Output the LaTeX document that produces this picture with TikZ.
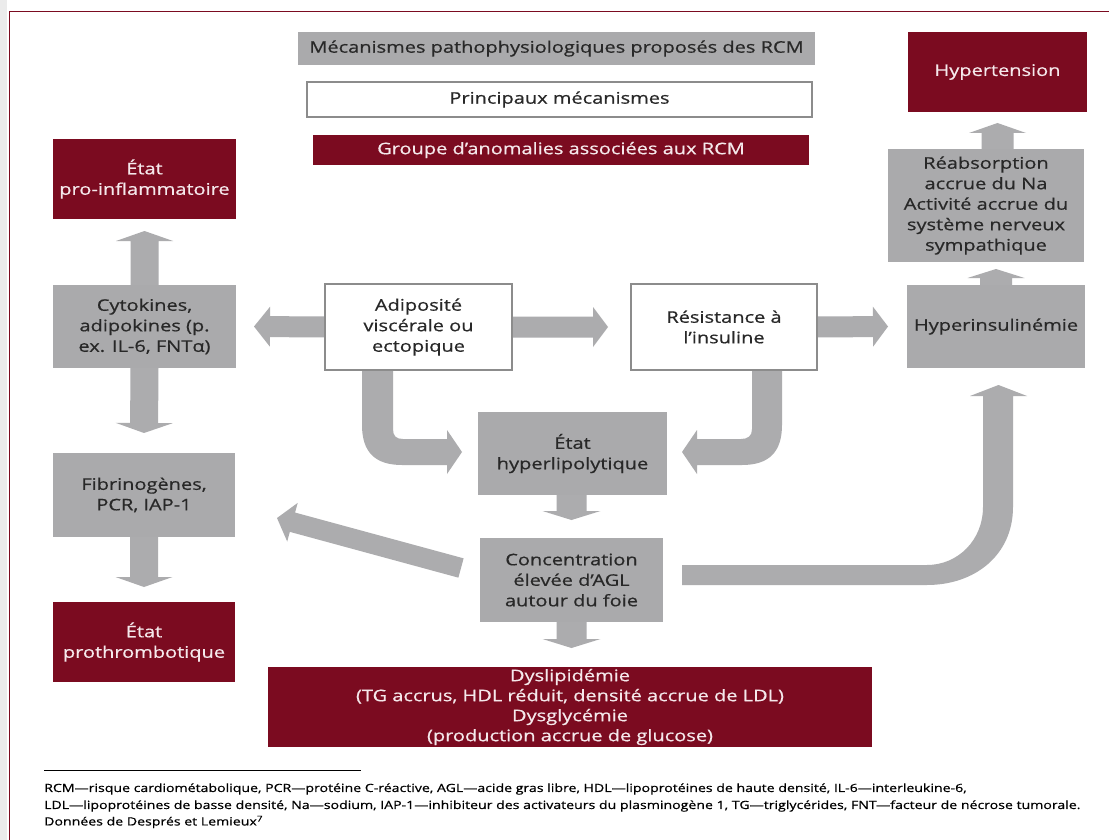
\documentclass[tikz,border=0pt]{standalone}
\usepackage{fontspec}
\setmainfont[FakeStretch=1.25,FakeBold=0.6]{Open Sans}
\usetikzlibrary{calc}
\definecolor{rcmred}{RGB}{123,11,32}
\definecolor{boxgray}{RGB}{170,170,172}
\definecolor{arrgray}{RGB}{172,172,174}
\definecolor{bordergray}{RGB}{140,140,140}
\definecolor{txtdark}{RGB}{40,40,40}
\definecolor{txtlight}{RGB}{245,232,235}
\pgfdeclarelayer{bg}
\pgfsetlayers{bg,main}
\newcommand{\mkbox}[7]{%
  \pgfmathsetmacro\bxw{#5-#3}\pgfmathsetmacro\bxh{#6-#4}%
  \pgfmathsetmacro\bxcx{(#3+#5)/2}\pgfmathsetmacro\bxcy{(#4+#6)/2}%
  \node[#2, minimum width=\bxw pt, minimum height=\bxh pt] (#1) at (\bxcx,\bxcy) {#7};}
\newcommand{\blockarr}[5]{%
  \path let \p1=#1, \p2=#2 in \pgfextra{\xdef\bax{\x1}\xdef\bay{\y1}\xdef\bbx{\x2}\xdef\bby{\y2}};
  \pgfmathsetmacro\bang{atan2(\bby-\bay,\bbx-\bax)}%
  \pgfmathsetmacro\blen{veclen(\bbx-\bax,\bby-\bay)}%
  \pgfmathsetmacro\bbase{\blen-#5}%
  \fill[arr,shift={(\bax,\bay)},rotate=\bang] (0pt,-#3pt) -- (\bbase pt,-#3pt) -- (\bbase pt,-#4pt) -- (\blen pt,0pt) -- (\bbase pt,#4pt) -- (\bbase pt,#3pt) -- (0pt,#3pt) -- cycle;}
\begin{document}
\begin{tikzpicture}[x=1pt,y=-1pt,
  base/.style={inner sep=0pt, outer sep=0pt, align=center, font=\fontsize{16}{20.5}\selectfont},
  redbox/.style={base, fill=rcmred, text=txtlight},
  graybox/.style={base, fill=boxgray, text=txtdark},
  whitebox/.style={base, fill=white, draw=bordergray, line width=2.5pt, text=txtdark},
  arr/.style={fill=arrgray},
  foot/.style={inner sep=0pt, anchor=west, font=\fontsize{11.3}{13}\selectfont, text=black}]
\useasboundingbox (0,0) rectangle (1109,840);

% legend
\mkbox{title}{graybox}{298}{32}{815}{65}{Mécanismes pathophysiologiques proposés des RCM}
\mkbox{princ}{whitebox}{307}{82}{812}{117}{Principaux mécanismes}
\mkbox{groupe}{redbox}{313}{135}{809}{165}{Groupe d’anomalies associées aux RCM}

% boxes
\mkbox{hypert}{redbox}{908}{32}{1087}{112}{Hypertension}
\mkbox{reabs}{graybox}{888}{149}{1084}{262}{Réabsorption\\accrue du Na\\Activité accrue du\\système nerveux\\sympathique}
\mkbox{hyperins}{graybox}{907}{285}{1085}{368}{Hyperinsulinémie}
\mkbox{proinfl}{redbox}{53}{139}{236}{219}{État\\pro-inflammatoire}
\mkbox{cyto}{graybox}{53}{285}{236}{368}{Cytokines,\\adipokines (p.\\ex. IL-6, FNTα)}
\mkbox{adipo}{whitebox}{325}{284}{512}{370}{Adiposité\\viscérale ou\\ectopique}
\mkbox{resist}{whitebox}{631}{284}{817}{370}{Résistance à\\l’insuline}
\mkbox{hyperlipo}{graybox}{478}{412}{667}{495}{État\\hyperlipolytique}
\mkbox{conc}{graybox}{480}{538}{663}{622}{Concentration\\élevée d’AGL\\autour du foie}
\mkbox{fibrino}{graybox}{53}{453}{235}{537}{Fibrinogènes,\\PCR, IAP-1}
\mkbox{prothr}{redbox}{53}{602}{235}{682}{État\\prothrombotique}
\mkbox{dyslip}{redbox,font=\fontsize{16}{20}\selectfont}{268}{667}{872}{747}{Dyslipidémie\\(TG accrus, HDL réduit, densité accrue de LDL)\\Dysglycémie\\(production accrue de glucose)}

\begin{pgfonlayer}{bg}
\fill[white] (0,0) rectangle (1109,840);
\fill[black!8] (0,0) rectangle (7,840);
\draw[rcmred, line width=1.5pt] (9.5,840) -- (9.5,11.5) -- (1109,11.5);
% horizontal arrows
\blockarr{(adipo.west)}{($(cyto.east)+(18,0)$)}{10.5}{20}{16}
\blockarr{(adipo.east)}{($(resist.west)+(-23,0)$)}{10.5}{20}{15}
\blockarr{(resist.east)}{($(hyperins.west)+(-19,0)$)}{10.5}{20}{15}
% vertical arrows
\blockarr{(cyto.north)}{($(proinfl.south)+(0,12)$)}{14}{28.5}{10}
\blockarr{(cyto.south)}{($(fibrino.north)+(0,-20)$)}{14}{28.5}{10}
\blockarr{(fibrino.south)}{($(prothr.north)+(0,-15)$)}{14}{28.5}{10}
\blockarr{(hyperins.north)}{($(reabs.south -| hyperins.north)+(0,7)$)}{16}{28.5}{9}
\blockarr{(reabs.north -| hypert.south)}{($(hypert.south)+(0,11)$)}{16}{28.5}{10}
\blockarr{(hyperlipo.south -| conc.north)}{($(conc.north)+(0,-18)$)}{15}{29}{9}
\blockarr{(conc.south)}{($(dyslip.north -| conc.south)+(0,-19)$)}{15}{29}{9}
% diagonal arrow
\coordinate (dtail) at ($(conc.west)+(-19,-12)$);
\coordinate (dtip) at ($(fibrino.east)+(42,23)$);
\blockarr{(dtail)}{(dtip)}{10}{20}{16}
% curved arrows
\fill[arr] (362,370) -- (362,425) .. controls (362,452) and (375,465) .. (402,465) -- (447,465) -- (447,474) -- (462,452) -- (447,430) -- (447,439) -- (403,439) .. controls (396,439) and (393,436) .. (393,429) -- (393,370) -- cycle;
\fill[arr] (782,370) -- (782,425) .. controls (782,452) and (769,465) .. (742,465) -- (697,465) -- (697,474) -- (682,452) -- (697,430) -- (697,439) -- (741,439) .. controls (748,439) and (752,436) .. (752,429) -- (752,370) -- cycle;
\fill[arr] (682,565) -- (927,565) .. controls (958,565) and (983,540) .. (983,507) -- (983,396) -- (970,396) -- (998.5,385) -- (1027,396) -- (1013,396) -- (1013,507) .. controls (1013,555) and (975,585) .. (927,585) -- (682,585) -- cycle;
\end{pgfonlayer}

% footnote
\draw[black, line width=1pt] (44,770) -- (361,770);
\node[foot] (fn1) at (44,789) {RCM—risque cardiométabolique, PCR—protéine C-réactive, AGL—acide gras libre, HDL—lipoprotéines de haute densité, IL-6—interleukine-6,};
\node[foot] (fn2) at (44,806) {LDL—lipoprotéines de basse densité, Na—sodium, IAP-1—inhibiteur des activateurs du plasminogène 1, TG—triglycérides, FNT—facteur de nécrose tumorale.};
\node[foot] (fn3) at (44,822) {Données de Després et Lemieux\textsuperscript{7}};
\end{tikzpicture}
\end{document}
